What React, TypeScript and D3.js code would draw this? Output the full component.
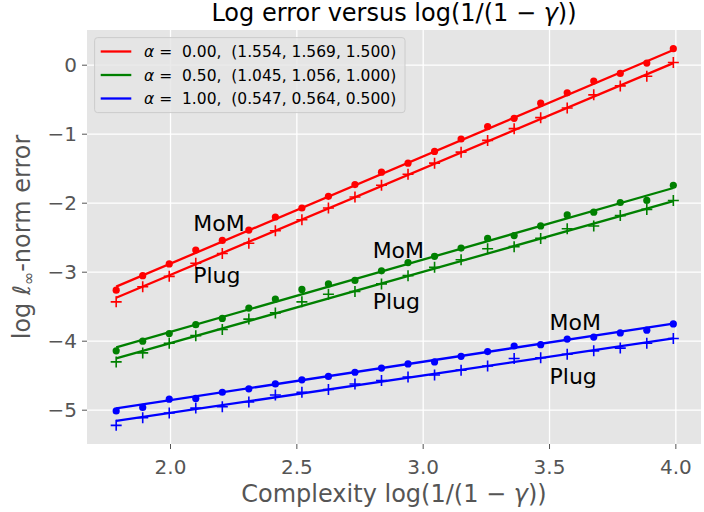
import React from 'react';
import * as d3 from 'd3';

// chart size
const width = 704;
const height = 512;
const margin = { top: 30, right: 3, bottom: 68, left: 87 };

// data
const xValues = [1.785, 1.89, 1.995, 2.1, 2.205, 2.31, 2.415, 2.52, 2.625, 2.73, 2.835,
  2.94, 3.045, 3.15, 3.255, 3.36, 3.465, 3.57, 3.675, 3.78, 3.885, 3.99];

const momRed = [-3.26, -3.05, -2.88, -2.68, -2.54, -2.39, -2.2, -2.07, -1.9, -1.73, -1.55,
  -1.42, -1.25, -1.07, -0.89, -0.77, -0.55, -0.4, -0.23, -0.12, 0.03, 0.24];
const plugRed = [-3.43, -3.21, -3.06, -2.87, -2.73, -2.58, -2.4, -2.24, -2.07, -1.91, -1.74,
  -1.58, -1.42, -1.26, -1.09, -0.92, -0.76, -0.62, -0.43, -0.3, -0.16, 0.04];
const momGreen = [-4.14, -4.0, -3.89, -3.76, -3.67, -3.52, -3.39, -3.25, -3.17, -3.12, -2.98,
  -2.86, -2.77, -2.65, -2.51, -2.47, -2.33, -2.17, -2.13, -1.99, -1.96, -1.74];
const plugGreen = [-4.3, -4.17, -4.03, -3.92, -3.83, -3.68, -3.59, -3.43, -3.32, -3.28, -3.17,
  -3.05, -2.93, -2.82, -2.66, -2.63, -2.51, -2.37, -2.33, -2.18, -2.09, -1.96];
const momBlue = [-5.01, -4.96, -4.84, -4.83, -4.74, -4.69, -4.62, -4.56, -4.51, -4.45, -4.39,
  -4.33, -4.3, -4.22, -4.15, -4.07, -4.05, -3.97, -3.94, -3.88, -3.84, -3.75];
const plugBlue = [-5.22, -5.11, -5.04, -4.97, -4.95, -4.88, -4.78, -4.74, -4.7, -4.62, -4.57,
  -4.52, -4.49, -4.42, -4.36, -4.25, -4.24, -4.19, -4.14, -4.1, -4.03, -3.96];

// fitted lines, [value at first x, value at last x]
const momFits = [[-3.21, 0.22], [-4.09, -1.78], [-4.975, -3.745]];
const plugFits = [[-3.37, 0.03], [-4.25, -1.97], [-5.155, -3.96]];

const colors = ['#ff0000', '#008000', '#0000ff'];
const alphas = ['0.00', '0.50', '1.00'];
const slopeLabels = ['(1.554, 1.569, 1.500)', '(1.045, 1.056, 1.000)', '(0.547, 0.564, 0.500)'];

const xTicks = [2.0, 2.5, 3.0, 3.5, 4.0];
const yTicks = [0, -1, -2, -3, -4, -5];

// text labels placed in data coordinates
const labelX = [2.09, 2.8, 3.5];
const momLabelY = [-2.4, -2.8, -3.84];
const plugLabelY = [-3.15, -3.54, -4.62];

const font = 'DejaVu Sans, sans-serif';

const App = () => {
  const innerRight = width - margin.right;
  const innerBottom = height - margin.bottom;

  const xScale = d3.scaleLinear().domain([1.6695, 4.0995]).range([margin.left, innerRight]);
  const yScale = d3.scaleLinear().domain([-5.49, 0.51]).range([innerBottom, margin.top]);

  const line = d3.line<[number, number]>()
    .x(d => xScale(d[0]))
    .y(d => yScale(d[1]));

  const momSeries = [momRed, momGreen, momBlue];
  const plugSeries = [plugRed, plugGreen, plugBlue];
  const x0 = xValues[0];
  const x1 = xValues[xValues.length - 1];

  return (
    <svg width={width} height={height} style={{ position: 'absolute', left: 0, top: 0 }}
      fontFamily={font}>
      <rect x={0} y={0} width={width} height={height} fill="#fff" />
      {/* plot background */}
      <rect x={margin.left} y={margin.top} width={innerRight - margin.left}
        height={innerBottom - margin.top} fill="#e5e5e5" />

      {/* grid */}
      {xTicks.map(t => (
        <line key={'gx' + t} x1={xScale(t)} x2={xScale(t)} y1={margin.top} y2={innerBottom}
          stroke="#fff" strokeWidth={1.3} />
      ))}
      {yTicks.map(t => (
        <line key={'gy' + t} x1={margin.left} x2={innerRight} y1={yScale(t)} y2={yScale(t)}
          stroke="#fff" strokeWidth={1.3} />
      ))}

      {/* ticks */}
      {xTicks.map(t => (
        <g key={'tx' + t}>
          <line x1={xScale(t)} x2={xScale(t)} y1={innerBottom} y2={innerBottom + 5} stroke="#555" />
          <text x={xScale(t)} y={innerBottom + 30} textAnchor="middle" fontSize={20} fill="#555">
            {t.toFixed(1)}
          </text>
        </g>
      ))}
      {yTicks.map(t => (
        <g key={'ty' + t}>
          <line x1={margin.left - 5} x2={margin.left} y1={yScale(t)} y2={yScale(t)} stroke="#555" />
          <text x={margin.left - 10} y={yScale(t) + 7} textAnchor="end" fontSize={20} fill="#555">
            {t < 0 ? '\u2212' + Math.abs(t) : t}
          </text>
        </g>
      ))}

      {/* series */}
      {colors.map((c, k) => (
        <g key={'s' + k}>
          <path d={line([[x0, momFits[k][0]], [x1, momFits[k][1]]]) || ''} stroke={c}
            strokeWidth={2.3} fill="none" />
          <path d={line([[x0, plugFits[k][0]], [x1, plugFits[k][1]]]) || ''} stroke={c}
            strokeWidth={2.3} fill="none" />
          {momSeries[k].map((v, i) => (
            <circle key={'m' + i} cx={xScale(xValues[i])} cy={yScale(v)} r={3.6} fill={c} />
          ))}
          {plugSeries[k].map((v, i) => {
            const cx = xScale(xValues[i]);
            const cy = yScale(v);
            return (
              <path key={'p' + i} d={`M${cx - 5.5},${cy}H${cx + 5.5}M${cx},${cy - 5.5}V${cy + 5.5}`}
                stroke={c} strokeWidth={1.6} />
            );
          })}
          <text x={xScale(labelX[k])} y={yScale(momLabelY[k])} fontSize={22} fill="#000">MoM</text>
          <text x={xScale(labelX[k])} y={yScale(plugLabelY[k])} fontSize={22} fill="#000">Plug</text>
        </g>
      ))}

      {/* legend */}
      <rect x={94.6} y={37.6} width={310.4} height={75} rx={3} fill="#e5e5e5" fillOpacity={0.8}
        stroke="#cccccc" />
      {colors.map((c, k) => {
        const ly = 51.5 + k * 23.5;
        return (
          <g key={'l' + k}>
            <line x1={100.7} x2={131.3} y1={ly} y2={ly} stroke={c} strokeWidth={2.3} />
            <text x={144} y={ly + 5.5} fontSize={15.5} fill="#000" style={{ whiteSpace: 'pre' }}>
              <tspan fontStyle="italic">{'\u03b1'}</tspan>
              {` =  ${alphas[k]},  ${slopeLabels[k]}`}
            </text>
          </g>
        );
      })}

      {/* title and axis labels */}
      <text x={(margin.left + innerRight) / 2} y={21} textAnchor="middle" fontSize={24} fill="#000"
        style={{ whiteSpace: 'pre' }}>
        {'Log error versus log(1/(1 \u2212 '}<tspan fontStyle="italic">{'\u03b3'}</tspan>{'))'}
      </text>
      <text x={(margin.left + innerRight) / 2} y={502} textAnchor="middle" fontSize={24} fill="#555"
        style={{ whiteSpace: 'pre' }}>
        {'Complexity log(1/(1 \u2212 '}<tspan fontStyle="italic">{'\u03b3'}</tspan>{'))'}
      </text>
      <text transform={`translate(30,${(margin.top + innerBottom) / 2}) rotate(-90)`} textAnchor="middle"
        fontSize={24} fill="#555" style={{ whiteSpace: 'pre' }}>
        {'log '}<tspan fontStyle="italic">{'\u2113'}</tspan>
        <tspan fontSize={16} dy={4}>{'\u221e'}</tspan>
        <tspan dy={-4}>{'-norm error'}</tspan>
      </text>
    </svg>
  );
};

export default App;
